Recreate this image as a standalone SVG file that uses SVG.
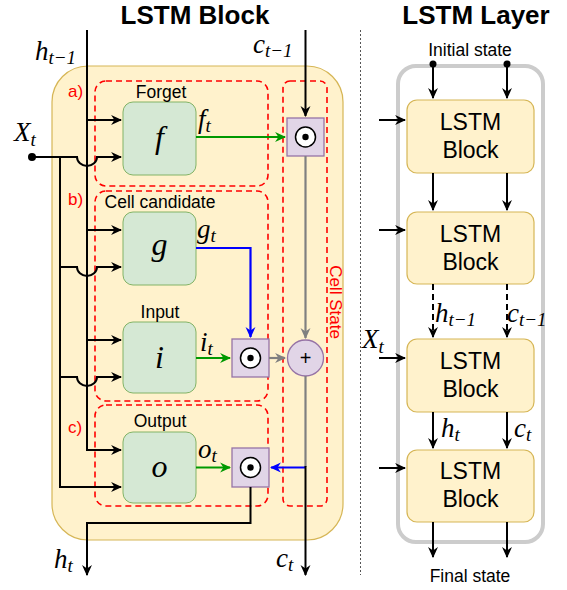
<svg xmlns="http://www.w3.org/2000/svg" width="567" height="590" viewBox="0 0 567 590">
<style>
.title{font-family:"Liberation Sans",Arial,sans-serif;font-weight:bold;font-size:26px;fill:#000;text-anchor:middle}
.lbl{font-family:"Liberation Sans",Arial,sans-serif;font-size:17.5px;fill:#000;text-anchor:middle}
.red{font-family:"Liberation Sans",Arial,sans-serif;font-size:17px;fill:#ff0000}
.blk{font-family:"Liberation Sans",Arial,sans-serif;font-size:23px;fill:#000;text-anchor:middle}
.st{font-family:"Liberation Sans",Arial,sans-serif;font-size:17.5px;fill:#000;text-anchor:middle}
.m{font-family:"Liberation Serif","Times New Roman",serif;font-style:italic;font-size:27px;fill:#000}
.s{font-size:19px}
.fn{font-family:"Liberation Serif","Times New Roman",serif;font-style:italic;font-size:32px;fill:#000;text-anchor:middle}
.gate{fill:#d5e8d4;stroke:#82b366;stroke-width:1}
.mul{fill:#e1d5e7;stroke:#9673a6;stroke-width:1.3}
.dash{fill:none;stroke:#ff0000;stroke-width:1.6;stroke-dasharray:6 4}
.k{fill:none;stroke:#000;stroke-width:2}
.g{fill:none;stroke:#009900;stroke-width:2.2}
.b{fill:none;stroke:#0000ff;stroke-width:2.2}
.gr{fill:none;stroke:#808080;stroke-width:2.2}
.lb{fill:#fff2cc;stroke:#d6b656;stroke-width:1.2}
</style>
<defs>
<marker id="ak" viewBox="0 0 10 10" refX="9" refY="5" markerWidth="11" markerHeight="11" markerUnits="userSpaceOnUse" orient="auto"><path d="M0,0.5 L10,5 L0,9.5 L3,5 z" fill="#000"/></marker>
<marker id="ag" viewBox="0 0 10 10" refX="9" refY="5" markerWidth="11" markerHeight="11" markerUnits="userSpaceOnUse" orient="auto"><path d="M0,0.5 L10,5 L0,9.5 L3,5 z" fill="#009900"/></marker>
<marker id="ab" viewBox="0 0 10 10" refX="9" refY="5" markerWidth="11" markerHeight="11" markerUnits="userSpaceOnUse" orient="auto"><path d="M0,0.5 L10,5 L0,9.5 L3,5 z" fill="#0000ff"/></marker>
<marker id="agr" viewBox="0 0 10 10" refX="9" refY="5" markerWidth="11" markerHeight="11" markerUnits="userSpaceOnUse" orient="auto"><path d="M0,0.5 L10,5 L0,9.5 L3,5 z" fill="#808080"/></marker>
<g id="odot"><circle r="10" fill="#fff" stroke="#000" stroke-width="1.5"/><circle r="3.2" fill="#000"/></g>
</defs>
<rect width="567" height="590" fill="#fff"/>

<text class="title" x="195" y="24">LSTM Block</text>
<text class="title" x="476" y="24">LSTM Layer</text>

<g id="block-bg"><rect x="52" y="66" width="291" height="474" rx="36" fill="#fff2cc" stroke="#d6b656" stroke-width="1.2"/></g>

<g id="regions">
<rect class="dash" x="95" y="81" width="173" height="105" rx="11"/>
<rect class="dash" x="95" y="191" width="173" height="210" rx="11"/>
<rect class="dash" x="95" y="405" width="173" height="101" rx="11"/>
<rect class="dash" x="283" y="81" width="44" height="425" rx="7"/>
<text class="red" x="68" y="97">a)</text>
<text class="red" x="68" y="205">b)</text>
<text class="red" x="68" y="433">c)</text>
<text class="red" x="330" y="302" text-anchor="middle" transform="rotate(90 330 302)" font-size="18">Cell State</text>
</g>

<g id="gate-f"><rect class="gate" x="123" y="102" width="73" height="73" rx="10"/><text class="fn" x="159.5" y="148">f</text><text class="lbl" x="161" y="98">Forget</text></g>
<g id="gate-g"><rect class="gate" x="123" y="212" width="73" height="73" rx="10"/><text class="fn" x="159.5" y="255">g</text><text class="lbl" x="160" y="208">Cell candidate</text></g>
<g id="gate-i"><rect class="gate" x="123" y="322" width="73" height="71" rx="10"/><text class="fn" x="159.5" y="368">i</text><text class="lbl" x="160" y="318">Input</text></g>
<g id="gate-o"><rect class="gate" x="123" y="432" width="73" height="71" rx="10"/><text class="fn" x="159.5" y="477">o</text><text class="lbl" x="160" y="427">Output</text></g>

<g id="mul-f"><rect class="mul" x="287" y="118" width="37" height="38"/><use href="#odot" x="305.5" y="137"/></g>
<g id="mul-i"><rect class="mul" x="232" y="339" width="37" height="38"/><use href="#odot" x="250.5" y="358"/></g>
<g id="mul-o"><rect class="mul" x="232" y="448" width="37" height="39"/><use href="#odot" x="250.5" y="467.5"/></g>
<g id="add"><circle cx="305.5" cy="358" r="18" fill="#e1d5e7" stroke="#9673a6" stroke-width="1.3"/><text x="305.5" y="365" font-family="Liberation Sans,Arial,sans-serif" font-size="20" text-anchor="middle">+</text></g>

<g id="connectors">
<path class="k" d="M87,30 V450 H121" marker-end="url(#ak)"/>
<path class="k" d="M87,120 H121" marker-end="url(#ak)"/>
<path class="k" d="M87,230 H121" marker-end="url(#ak)"/>
<path class="k" d="M87,340 H121" marker-end="url(#ak)"/>
<circle cx="32" cy="157" r="4" fill="#000"/>
<path class="k" d="M32,157 H77 A10,9 0 0 0 97,157 H121" marker-end="url(#ak)"/>
<path class="k" d="M60,157 V487 H121" marker-end="url(#ak)"/>
<path class="k" d="M60,267 H77 A10,9 0 0 0 97,267 H121" marker-end="url(#ak)"/>
<path class="k" d="M60,377 H77 A10,9 0 0 0 97,377 H121" marker-end="url(#ak)"/>
<path class="g" d="M196,137 H285" marker-end="url(#ag)"/>
<path class="b" d="M196,248 H250.5 V337" marker-end="url(#ab)"/>
<path class="g" d="M196,358 H230" marker-end="url(#ag)"/>
<path class="g" d="M196,467.5 H230" marker-end="url(#ag)"/>
<path class="k" d="M305.5,30 V116" marker-end="url(#ak)"/>
<path class="gr" d="M305.5,156 V338" marker-end="url(#agr)"/>
<path class="gr" d="M269,358 H285" marker-end="url(#agr)"/>
<path class="gr" d="M305.5,376 V467"/>
<path class="b" d="M305.5,467.5 H271" marker-end="url(#ab)"/>
<path class="k" d="M305.5,466 V575" marker-end="url(#ak)"/>
<path class="k" d="M250.5,487 V523 H87 V575" marker-end="url(#ak)"/>
</g>

<g id="math-labels">
<text class="m" x="35" y="60">h<tspan class="s" dy="4">t−1</tspan></text>
<text class="m" x="253" y="53">c<tspan class="s" dy="4">t−1</tspan></text>
<text class="m" x="14" y="141">X<tspan class="s" dy="5">t</tspan></text>
<text class="m" x="198" y="128">f<tspan class="s" dy="4">t</tspan></text>
<text class="m" x="197" y="238">g<tspan class="s" dy="4">t</tspan></text>
<text class="m" x="200" y="351">i<tspan class="s" dy="4">t</tspan></text>
<text class="m" x="198" y="458">o<tspan class="s" dy="4">t</tspan></text>
<text class="m" x="54" y="568">h<tspan class="s" dy="4">t</tspan></text>
<text class="m" x="276" y="567">c<tspan class="s" dy="4">t</tspan></text>
</g>

<g id="divider"><line x1="360.5" y1="30" x2="360.5" y2="575" stroke="#555" stroke-width="1" stroke-dasharray="2 2"/></g>

<g id="layer-frame"><rect x="398" y="66" width="145" height="476" rx="18" fill="none" stroke="#cccccc" stroke-width="4"/></g>
<g id="lstm-1"><rect class="lb" x="407" y="100" width="127" height="73" rx="10"/><text class="blk" x="470.5" y="130">LSTM</text><text class="blk" x="470.5" y="158">Block</text></g>
<g id="lstm-2"><rect class="lb" x="407" y="212" width="127" height="72" rx="10"/><text class="blk" x="470.5" y="242">LSTM</text><text class="blk" x="470.5" y="270">Block</text></g>
<g id="lstm-3"><rect class="lb" x="407" y="339" width="127" height="73" rx="10"/><text class="blk" x="470.5" y="369">LSTM</text><text class="blk" x="470.5" y="397">Block</text></g>
<g id="lstm-4"><rect class="lb" x="407" y="450" width="127" height="72" rx="10"/><text class="blk" x="470.5" y="479">LSTM</text><text class="blk" x="470.5" y="507">Block</text></g>

<g id="layer-connectors">
<text class="st" x="470" y="56">Initial state</text>
<text class="st" x="470" y="582">Final state</text>
<circle cx="433" cy="64" r="3.5" fill="#000"/>
<circle cx="507" cy="64" r="3.5" fill="#000"/>
<path class="k" d="M433,64 V98" marker-end="url(#ak)"/>
<path class="k" d="M507,64 V98" marker-end="url(#ak)"/>
<path class="k" d="M433,173 V210" marker-end="url(#ak)"/>
<path class="k" d="M507,173 V210" marker-end="url(#ak)"/>
<path class="k" d="M433,284 V337" stroke-dasharray="6 4" marker-end="url(#ak)"/>
<path class="k" d="M507,284 V337" stroke-dasharray="6 4" marker-end="url(#ak)"/>
<path class="k" d="M433,412 V448" marker-end="url(#ak)"/>
<path class="k" d="M507,412 V448" marker-end="url(#ak)"/>
<path class="k" d="M433,522 V557" marker-end="url(#ak)"/>
<path class="k" d="M507,522 V557" marker-end="url(#ak)"/>
<path class="k" d="M379,120 H405" marker-end="url(#ak)"/>
<path class="k" d="M379,230 H405" marker-end="url(#ak)"/>
<path class="k" d="M379,358 H405" marker-end="url(#ak)"/>
<path class="k" d="M379,468 H405" marker-end="url(#ak)"/>
<text class="m" x="435" y="322" font-size="24">h<tspan class="s" dy="4" font-size="17">t−1</tspan></text>
<text class="m" x="507" y="322" font-size="24">c<tspan class="s" dy="4" font-size="17">t−1</tspan></text>
<text class="m" x="441" y="437">h<tspan class="s" dy="4">t</tspan></text>
<text class="m" x="514" y="437">c<tspan class="s" dy="4">t</tspan></text>
<text class="m" x="362" y="348">X<tspan class="s" dy="5">t</tspan></text>
</g>
</svg>
